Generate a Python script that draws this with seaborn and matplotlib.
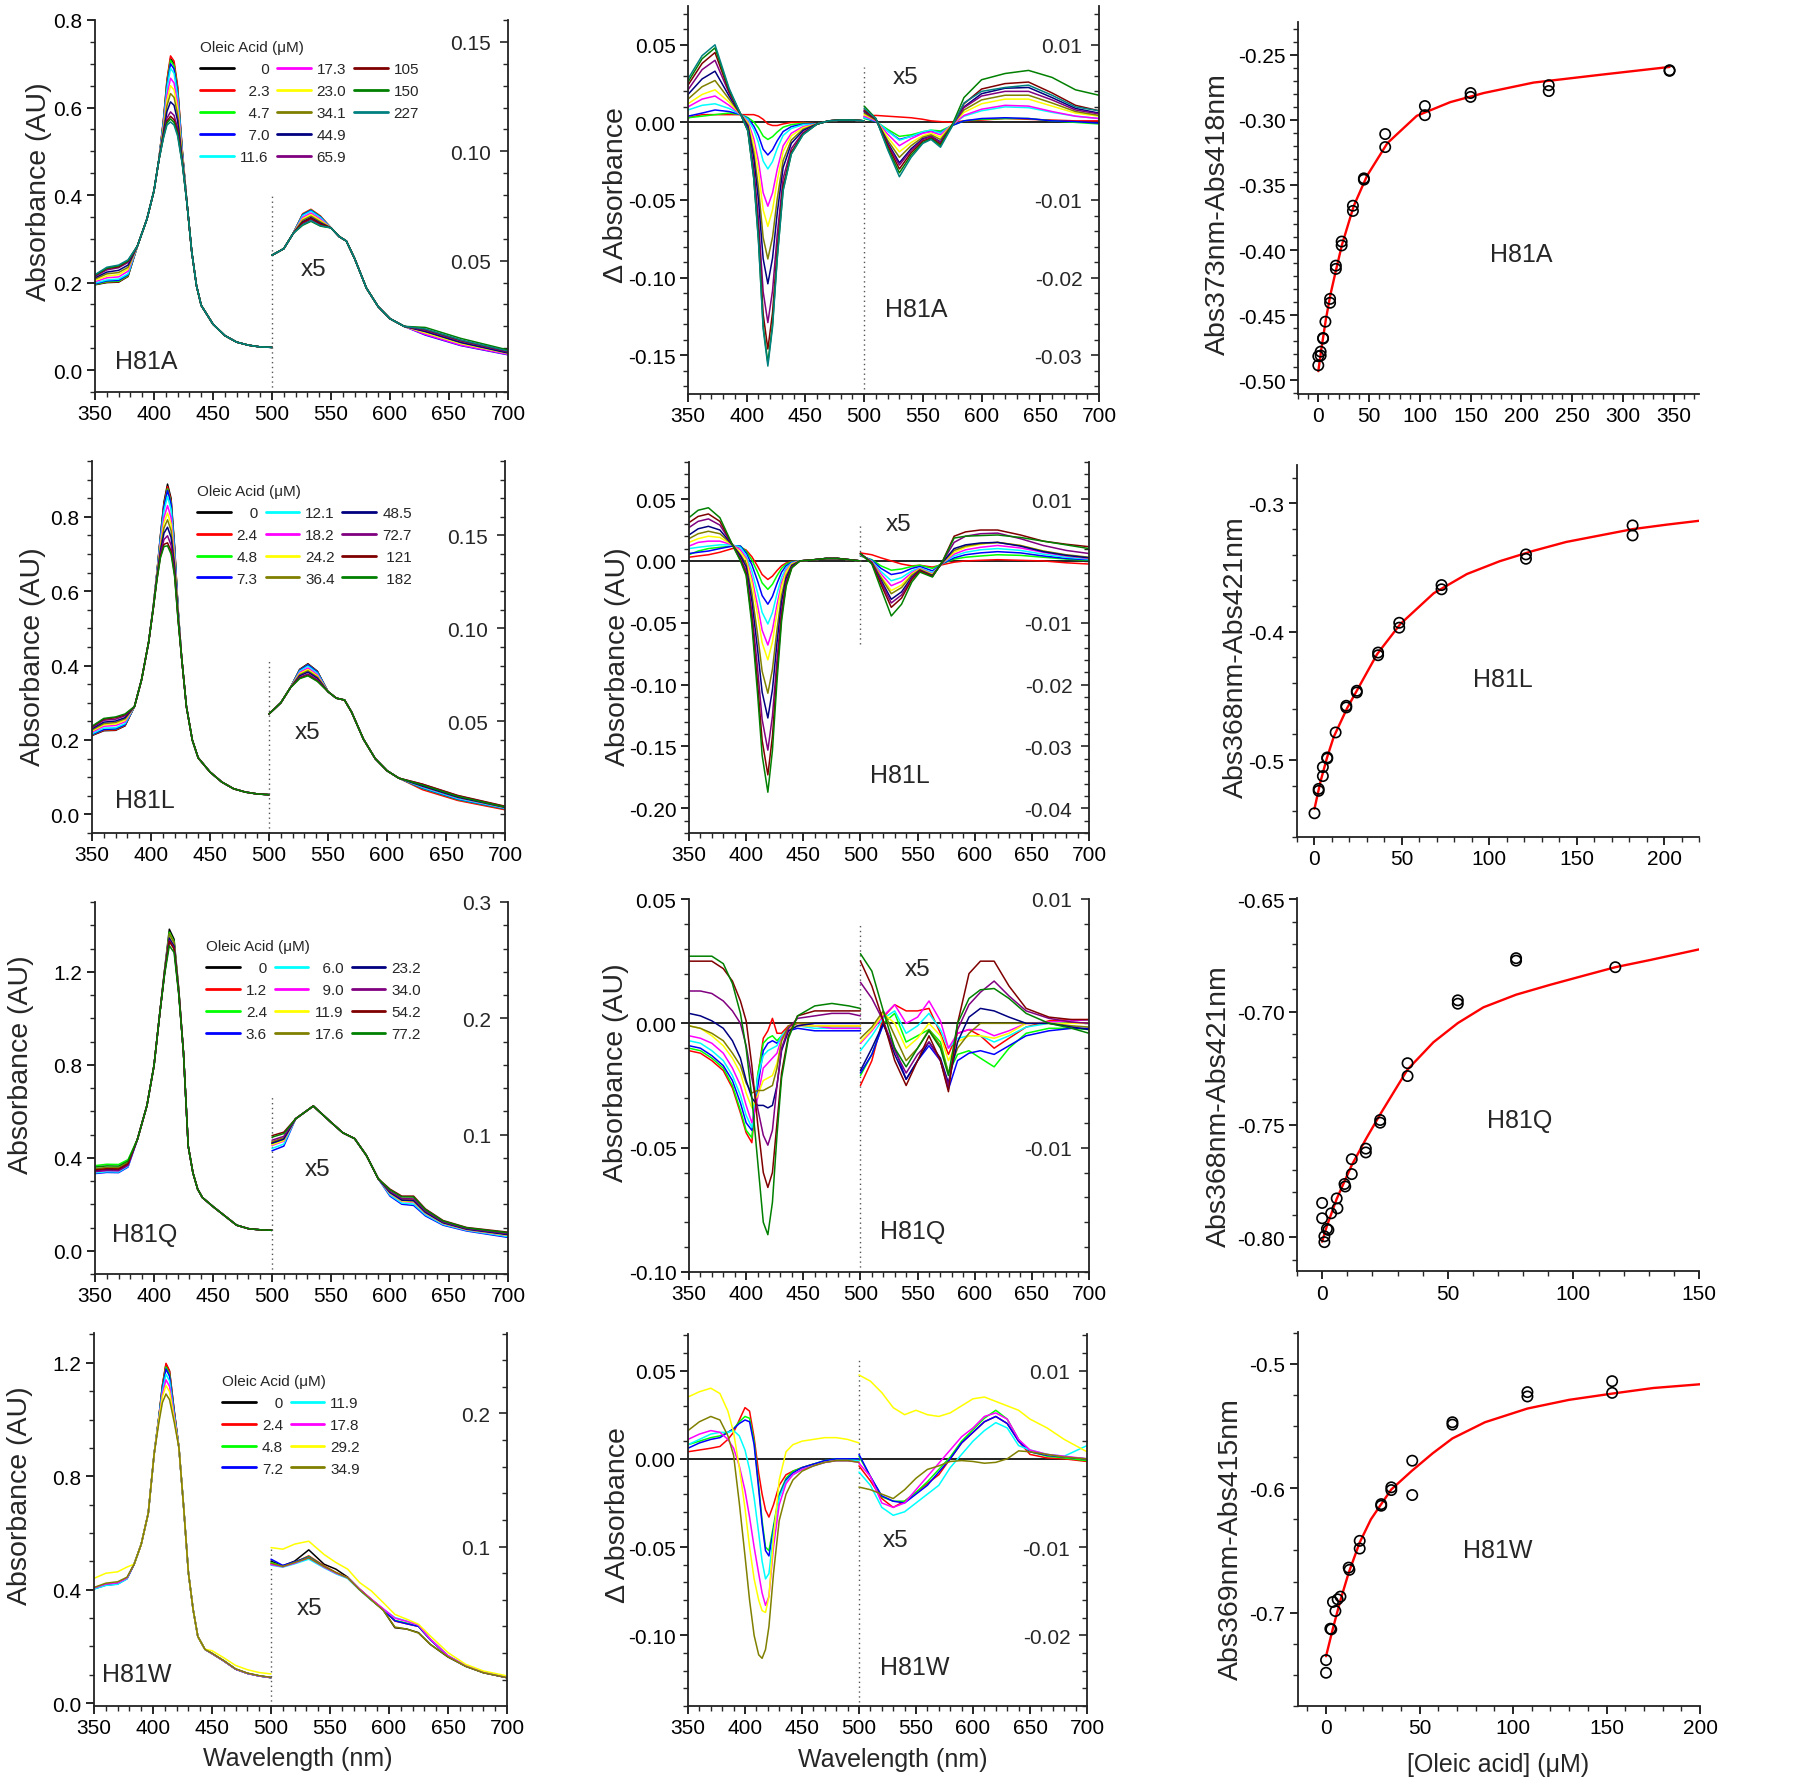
import matplotlib.pyplot as plt
import matplotlib.ticker as mticker
from matplotlib.lines import Line2D
import pandas as pd
import seaborn as sns

sns.set_theme(style="ticks")
plt.rcParams["font.family"] = ["Liberation Sans", "DejaVu Sans"]
plt.rcParams["axes.unicode_minus"] = False

# Origin default line colours, in legend order
ORIGIN = ["#000000", "#FF0000", "#00FF00", "#0000FF", "#00FFFF", "#FF00FF", "#FFFF00",
          "#808000", "#000080", "#800080", "#800000", "#008000", "#008080"]

# ======================= H81A =======================
a_conc = ["0", "2.3", "4.7", "7.0", "11.6", "17.3", "23.0", "34.1", "44.9", "65.9", "105", "150", "227"]

a_uv_lo_wl = [350, 360, 370, 378]
a_uv_lo = [
    [0.195, 0.200, 0.201, 0.214], [0.196, 0.201, 0.202, 0.215], [0.196, 0.202, 0.203, 0.216],
    [0.197, 0.204, 0.205, 0.218], [0.199, 0.206, 0.208, 0.220], [0.202, 0.211, 0.213, 0.226],
    [0.205, 0.215, 0.218, 0.231], [0.208, 0.220, 0.223, 0.235], [0.211, 0.224, 0.228, 0.240],
    [0.214, 0.229, 0.234, 0.246], [0.216, 0.232, 0.236, 0.249], [0.217, 0.233, 0.238, 0.250],
    [0.218, 0.235, 0.240, 0.252]]
a_uv_mid_wl = [386, 394, 400, 404]
a_uv_mid = [0.284, 0.345, 0.410, 0.478]
a_uv_pk_wl = [408, 411, 414, 417, 420, 424]
a_uv_pk = [
    [0.570, 0.660, 0.712, 0.700, 0.645, 0.500], [0.572, 0.664, 0.718, 0.706, 0.650, 0.502],
    [0.568, 0.656, 0.708, 0.695, 0.640, 0.498], [0.566, 0.650, 0.700, 0.688, 0.634, 0.497],
    [0.563, 0.643, 0.690, 0.678, 0.626, 0.495], [0.557, 0.628, 0.667, 0.656, 0.610, 0.490],
    [0.552, 0.616, 0.650, 0.640, 0.597, 0.487], [0.548, 0.604, 0.632, 0.623, 0.584, 0.483],
    [0.542, 0.591, 0.613, 0.605, 0.570, 0.479], [0.536, 0.576, 0.590, 0.582, 0.553, 0.475],
    [0.534, 0.569, 0.580, 0.572, 0.545, 0.473], [0.532, 0.565, 0.574, 0.566, 0.540, 0.472],
    [0.530, 0.560, 0.567, 0.560, 0.535, 0.470]]
a_uv_tail_wl = [428, 432, 436, 440, 450, 460, 470, 480, 490, 500]
a_uv_tail = [0.380, 0.270, 0.193, 0.148, 0.105, 0.079, 0.064, 0.057, 0.053, 0.052]

a_vis_a_wl = [500, 510, 518]
a_vis_a = [0.0525, 0.0555, 0.0625]
a_vis_pk_wl = [526, 533, 541]
a_vis_pk = [
    [0.0710, 0.0730, 0.0700], [0.0715, 0.0735, 0.0705], [0.0712, 0.0732, 0.0702],
    [0.0710, 0.0730, 0.0700], [0.0706, 0.0726, 0.0697], [0.0698, 0.0718, 0.0690],
    [0.0691, 0.0711, 0.0684], [0.0685, 0.0704, 0.0678], [0.0678, 0.0697, 0.0672],
    [0.0670, 0.0689, 0.0665], [0.0675, 0.0694, 0.0668], [0.0662, 0.0680, 0.0658],
    [0.0665, 0.0683, 0.0660]]
a_vis_b_wl = [550, 557, 563, 570, 580, 590, 600, 612]
a_vis_b = [0.0650, 0.0610, 0.0590, 0.0510, 0.0375, 0.0290, 0.0235, 0.0200]
a_vis_c_wl = [630, 660, 700]
a_vis_c = [
    [0.0175, 0.0125, 0.0078], [0.0172, 0.0122, 0.0076], [0.0165, 0.0115, 0.0072],
    [0.0160, 0.0112, 0.0070], [0.0168, 0.0118, 0.0074], [0.0163, 0.0114, 0.0072],
    [0.0170, 0.0121, 0.0076], [0.0178, 0.0128, 0.0080], [0.0176, 0.0126, 0.0078],
    [0.0182, 0.0133, 0.0083], [0.0186, 0.0136, 0.0086], [0.0195, 0.0145, 0.0092],
    [0.0188, 0.0138, 0.0087]]

ad_pos_wl = [350, 362, 373, 385]
ad_pos = [
    [0.003, 0.005, 0.005, 0.005], [0.003, 0.004, 0.005, 0.006], [0.004, 0.006, 0.008, 0.007],
    [0.008, 0.011, 0.012, 0.009], [0.010, 0.015, 0.017, 0.011], [0.012, 0.018, 0.021, 0.013],
    [0.015, 0.023, 0.027, 0.015], [0.018, 0.028, 0.033, 0.017], [0.021, 0.034, 0.040, 0.019],
    [0.024, 0.038, 0.045, 0.020], [0.026, 0.041, 0.048, 0.021], [0.028, 0.043, 0.050, 0.022]]
ad_iso_wl = [395]
ad_iso = [0.005]
ad_tr_wl = [401, 406, 410, 414, 418, 422, 426, 431, 438, 448]
ad_tr = [
    [0.0050, 0.0050, 0.0040, 0.0020, -0.0010, -0.0020, -0.0020, -0.0010, 0.0000, 0.0000],
    [0.0031, 0.0003, -0.0035, -0.0088, -0.0110, -0.0092, -0.0062, -0.0031, -0.0014, -0.0006],
    [0.0025, -0.0023, -0.0085, -0.0173, -0.0210, -0.0176, -0.0118, -0.0059, -0.0027, -0.0011],
    [0.0020, -0.0045, -0.0130, -0.0249, -0.0300, -0.0252, -0.0168, -0.0084, -0.0039, -0.0015],
    [0.0005, -0.0105, -0.0250, -0.0453, -0.0540, -0.0454, -0.0302, -0.0151, -0.0070, -0.0027],
    [-0.0003, -0.0138, -0.0315, -0.0564, -0.0670, -0.0563, -0.0375, -0.0188, -0.0087, -0.0034],
    [-0.0015, -0.0190, -0.0420, -0.0742, -0.0880, -0.0739, -0.0493, -0.0246, -0.0114, -0.0044],
    [-0.0025, -0.0230, -0.0500, -0.0878, -0.1040, -0.0874, -0.0582, -0.0291, -0.0135, -0.0052],
    [-0.0040, -0.0293, -0.0625, -0.1091, -0.1290, -0.1084, -0.0722, -0.0361, -0.0168, -0.0065],
    [-0.0050, -0.0335, -0.0710, -0.1235, -0.1460, -0.1226, -0.0818, -0.0409, -0.0190, -0.0073],
    [-0.0055, -0.0358, -0.0755, -0.1312, -0.1550, -0.1302, -0.0868, -0.0434, -0.0202, -0.0078],
    [-0.0056, -0.0363, -0.0765, -0.1329, -0.1570, -0.1319, -0.0879, -0.0440, -0.0204, -0.0079]]
ad_tail_wl = [460, 470, 480, 490, 500]
ad_tail = [-0.001, 0.001, 0.0015, 0.0015, 0.001]
ad_vis_wl = [500, 510, 520, 530, 540, 550, 557, 565, 575, 585, 600, 620, 640, 660, 680, 700]
ad_vis = [
    [0.0008, 0.0009, 0.0008, 0.0007, 0.0006, 0.0004, 0.0002, 0.0001, 0.0000, 0.0002, 0.0003, 0.0005, 0.0004, 0.0003, 0.0002, 0.0002],
    [0.0005, 0.0001, -0.0009, -0.0018, -0.0016, -0.0012, -0.0010, -0.0011, -0.0004, 0.0002, 0.0004, 0.0005, 0.0005, 0.0002, 0.0000, -0.0002],
    [0.0006, 0.0001, -0.0011, -0.0022, -0.0018, -0.0013, -0.0011, -0.0013, -0.0004, 0.0002, 0.0005, 0.0006, 0.0005, 0.0002, 0.0001, -0.0001],
    [0.0006, 0.0002, -0.0011, -0.0023, -0.0018, -0.0012, -0.0010, -0.0014, -0.0003, 0.0008, 0.0015, 0.0020, 0.0019, 0.0013, 0.0008, 0.0005],
    [0.0008, 0.0002, -0.0015, -0.0030, -0.0021, -0.0014, -0.0012, -0.0016, -0.0003, 0.0009, 0.0017, 0.0022, 0.0021, 0.0014, 0.0008, 0.0005],
    [0.0010, 0.0003, -0.0019, -0.0038, -0.0026, -0.0017, -0.0014, -0.0019, -0.0003, 0.0013, 0.0024, 0.0030, 0.0030, 0.0021, 0.0012, 0.0008],
    [0.0012, 0.0003, -0.0023, -0.0045, -0.0030, -0.0019, -0.0016, -0.0022, -0.0003, 0.0016, 0.0029, 0.0035, 0.0035, 0.0025, 0.0014, 0.0009],
    [0.0014, 0.0004, -0.0026, -0.0052, -0.0034, -0.0021, -0.0018, -0.0025, -0.0004, 0.0020, 0.0037, 0.0044, 0.0045, 0.0032, 0.0018, 0.0012],
    [0.0015, 0.0004, -0.0028, -0.0055, -0.0036, -0.0022, -0.0018, -0.0026, -0.0004, 0.0019, 0.0034, 0.0040, 0.0040, 0.0029, 0.0016, 0.0011],
    [0.0016, 0.0004, -0.0030, -0.0060, -0.0039, -0.0024, -0.0020, -0.0028, -0.0004, 0.0024, 0.0043, 0.0050, 0.0052, 0.0038, 0.0022, 0.0015],
    [0.0021, 0.0005, -0.0033, -0.0065, -0.0042, -0.0026, -0.0021, -0.0030, -0.0003, 0.0032, 0.0055, 0.0063, 0.0067, 0.0058, 0.0042, 0.0035],
    [0.0018, 0.0005, -0.0035, -0.0070, -0.0045, -0.0027, -0.0022, -0.0032, -0.0005, 0.0025, 0.0040, 0.0045, 0.0048, 0.0035, 0.0020, 0.0015]]

ra_x = [0, 0, 2.3, 2.3, 4.7, 4.7, 7.0, 11.6, 11.6, 17.3, 17.3, 23.0, 23.0, 34.1, 34.1,
        44.9, 44.9, 65.9, 65.9, 105, 105, 150, 150, 227, 227, 346, 346]
ra_y = [-0.4885, -0.4815, -0.4780, -0.4810, -0.4675, -0.4680, -0.4550, -0.4375, -0.4405,
        -0.4120, -0.4145, -0.3935, -0.3965, -0.3660, -0.3700, -0.3450, -0.3460, -0.3110,
        -0.3210, -0.2895, -0.2965, -0.2795, -0.2825, -0.2735, -0.2780, -0.2625, -0.2620]
fa_x = [0, 3, 7.5, 12, 17.4, 23.3, 35, 48, 68, 97, 130, 163, 212, 278, 346]
fa_y = [-0.493, -0.476, -0.453, -0.434, -0.4155, -0.396, -0.366, -0.343, -0.318, -0.297,
        -0.2865, -0.2795, -0.2715, -0.2655, -0.2595]

# ======================= H81L =======================
l_conc = ["0", "2.4", "4.8", "7.3", "12.1", "18.2", "24.2", "36.4", "48.5", "72.7", "121", "182"]

l_uv_lo_wl = [350, 360, 370, 378]
l_uv_lo = [
    [0.212, 0.225, 0.226, 0.238], [0.213, 0.226, 0.227, 0.239], [0.214, 0.228, 0.229, 0.241],
    [0.215, 0.228, 0.230, 0.241], [0.217, 0.232, 0.233, 0.244], [0.221, 0.237, 0.239, 0.249],
    [0.224, 0.241, 0.243, 0.253], [0.227, 0.244, 0.247, 0.257], [0.230, 0.248, 0.251, 0.260],
    [0.233, 0.253, 0.256, 0.265], [0.236, 0.256, 0.260, 0.268], [0.237, 0.258, 0.262, 0.270]]
l_uv_mid_wl = [386, 392, 398]
l_uv_mid = [0.290, 0.362, 0.463]
l_uv_pk_wl = [402, 405, 408, 411, 414, 417, 420, 423]
l_uv_pk = [
    [0.560, 0.650, 0.750, 0.840, 0.888, 0.850, 0.720, 0.550],
    [0.560, 0.649, 0.748, 0.835, 0.881, 0.844, 0.717, 0.549],
    [0.560, 0.648, 0.745, 0.830, 0.875, 0.838, 0.714, 0.548],
    [0.560, 0.648, 0.744, 0.828, 0.871, 0.835, 0.712, 0.547],
    [0.559, 0.646, 0.738, 0.816, 0.855, 0.820, 0.704, 0.544],
    [0.558, 0.643, 0.729, 0.798, 0.830, 0.798, 0.692, 0.540],
    [0.558, 0.641, 0.722, 0.784, 0.810, 0.780, 0.682, 0.536],
    [0.557, 0.638, 0.715, 0.770, 0.792, 0.763, 0.674, 0.533],
    [0.557, 0.636, 0.708, 0.756, 0.772, 0.745, 0.664, 0.529],
    [0.556, 0.633, 0.700, 0.739, 0.749, 0.724, 0.653, 0.525],
    [0.555, 0.631, 0.693, 0.726, 0.730, 0.708, 0.644, 0.522],
    [0.555, 0.630, 0.690, 0.720, 0.722, 0.700, 0.640, 0.520]]
l_uv_tail_wl = [426, 430, 435, 440, 450, 460, 470, 480, 490, 500]
l_uv_tail = [0.420, 0.290, 0.200, 0.152, 0.114, 0.087, 0.069, 0.060, 0.055, 0.053]

l_vis_a_wl = [500, 510, 518]
l_vis_a = [0.054, 0.060, 0.068]
l_vis_pk_wl = [526, 533, 541]
l_vis_pk = [
    [0.0780, 0.0810, 0.0770], [0.0778, 0.0807, 0.0768], [0.0776, 0.0805, 0.0766],
    [0.0775, 0.0804, 0.0765], [0.0770, 0.0797, 0.0759], [0.0763, 0.0787, 0.0751],
    [0.0757, 0.0779, 0.0744], [0.0751, 0.0772, 0.0738], [0.0745, 0.0765, 0.0732],
    [0.0738, 0.0755, 0.0724], [0.0733, 0.0748, 0.0718], [0.0730, 0.0745, 0.0715]]
l_vis_b_wl = [550, 557, 564, 570, 580, 590, 600, 610]
l_vis_b = [0.0660, 0.0625, 0.0615, 0.0550, 0.0405, 0.0300, 0.0235, 0.0195]
l_vis_c_wl = [630, 660, 700]
l_vis_c = [
    [0.0148, 0.0088, 0.0035], [0.0133, 0.0075, 0.0025], [0.0140, 0.0080, 0.0030],
    [0.0142, 0.0082, 0.0031], [0.0145, 0.0085, 0.0033], [0.0150, 0.0090, 0.0036],
    [0.0152, 0.0092, 0.0037], [0.0155, 0.0095, 0.0039], [0.0152, 0.0092, 0.0038],
    [0.0162, 0.0100, 0.0042], [0.0163, 0.0102, 0.0044], [0.0158, 0.0097, 0.0040]]

ld_pos_wl = [350, 358, 367, 377, 388, 395]
ld_pos = [
    [0.003, 0.004, 0.005, 0.007, 0.010, 0.011], [0.005, 0.008, 0.010, 0.011, 0.012, 0.012],
    [0.006, 0.007, 0.008, 0.010, 0.012, 0.012], [0.010, 0.011, 0.012, 0.013, 0.013, 0.011],
    [0.012, 0.015, 0.016, 0.016, 0.013, 0.009], [0.015, 0.018, 0.020, 0.019, 0.013, 0.007],
    [0.018, 0.022, 0.024, 0.022, 0.013, 0.005], [0.021, 0.026, 0.028, 0.025, 0.013, 0.004],
    [0.027, 0.032, 0.034, 0.029, 0.013, 0.002], [0.031, 0.036, 0.038, 0.032, 0.013, 0.001],
    [0.035, 0.041, 0.043, 0.035, 0.013, 0.000]]
ld_tr_wl = [400, 405, 410, 414, 419, 423, 427, 431, 435, 440]
ld_tr = [
    [0.0088, 0.0034, -0.0042, -0.0110, -0.0150, -0.0123, -0.0078, -0.0039, -0.0017, -0.0005],
    [0.0078, 0.0008, -0.0090, -0.0178, -0.0230, -0.0189, -0.0120, -0.0060, -0.0025, -0.0007],
    [0.0064, -0.0030, -0.0162, -0.0280, -0.0350, -0.0287, -0.0182, -0.0091, -0.0039, -0.0011],
    [0.0045, -0.0081, -0.0258, -0.0416, -0.0510, -0.0418, -0.0265, -0.0133, -0.0056, -0.0015],
    [0.0024, -0.0136, -0.0360, -0.0560, -0.0680, -0.0558, -0.0354, -0.0177, -0.0075, -0.0020],
    [0.0010, -0.0174, -0.0432, -0.0662, -0.0800, -0.0656, -0.0416, -0.0208, -0.0088, -0.0024],
    [-0.0022, -0.0260, -0.0594, -0.0892, -0.1070, -0.0877, -0.0556, -0.0278, -0.0118, -0.0032],
    [-0.0046, -0.0324, -0.0714, -0.1062, -0.1270, -0.1041, -0.0660, -0.0330, -0.0140, -0.0038],
    [-0.0078, -0.0408, -0.0870, -0.1282, -0.1530, -0.1255, -0.0796, -0.0398, -0.0168, -0.0046],
    [-0.0102, -0.0472, -0.0990, -0.1452, -0.1730, -0.1419, -0.0900, -0.0450, -0.0190, -0.0052],
    [-0.0118, -0.0516, -0.1074, -0.1572, -0.1870, -0.1533, -0.0972, -0.0486, -0.0206, -0.0056]]
ld_tail_wl = [447, 460, 470, 480, 490, 500]
ld_tail = [0.000, 0.001, 0.002, 0.002, 0.001, 0.000]
ld_vis_wl = [500, 510, 518, 527, 536, 545, 552, 563, 572, 582, 592, 605, 620, 640, 660, 680, 700]
ld_vis = [
    [0.0013, 0.0010, 0.0005, 0.0000, -0.0005, -0.0008, -0.0007, -0.0010, -0.0006, -0.0002, 0.0000, 0.0001, 0.0002, 0.0001, 0.0000, -0.0003, -0.0005],
    [0.0008, 0.0002, -0.0008, -0.0015, -0.0013, -0.0009, -0.0007, -0.0012, -0.0004, 0.0003, 0.0006, 0.0008, 0.0010, 0.0009, 0.0006, 0.0003, 0.0001],
    [0.0009, 0.0001, -0.0012, -0.0022, -0.0019, -0.0012, -0.0009, -0.0016, -0.0004, 0.0005, 0.0010, 0.0013, 0.0015, 0.0013, 0.0008, 0.0004, 0.0002],
    [0.0010, 0.0000, -0.0017, -0.0032, -0.0027, -0.0016, -0.0011, -0.0019, -0.0003, 0.0008, 0.0014, 0.0018, 0.0020, 0.0017, 0.0011, 0.0006, 0.0003],
    [0.0010, -0.0001, -0.0021, -0.0040, -0.0033, -0.0019, -0.0012, -0.0021, -0.0003, 0.0011, 0.0018, 0.0022, 0.0025, 0.0021, 0.0014, 0.0008, 0.0004],
    [0.0011, -0.0002, -0.0025, -0.0048, -0.0039, -0.0021, -0.0013, -0.0022, -0.0003, 0.0014, 0.0022, 0.0027, 0.0030, 0.0025, 0.0016, 0.0009, 0.0005],
    [0.0011, -0.0002, -0.0027, -0.0053, -0.0043, -0.0023, -0.0014, -0.0023, -0.0002, 0.0017, 0.0024, 0.0028, 0.0030, 0.0025, 0.0016, 0.0010, 0.0006],
    [0.0012, -0.0003, -0.0031, -0.0062, -0.0050, -0.0026, -0.0015, -0.0024, -0.0002, 0.0020, 0.0026, 0.0029, 0.0030, 0.0024, 0.0015, 0.0009, 0.0005],
    [0.0012, -0.0003, -0.0034, -0.0068, -0.0055, -0.0028, -0.0016, -0.0025, -0.0001, 0.0030, 0.0040, 0.0044, 0.0045, 0.0036, 0.0025, 0.0017, 0.0012],
    [0.0012, -0.0004, -0.0038, -0.0075, -0.0060, -0.0030, -0.0016, -0.0025, 0.0000, 0.0040, 0.0047, 0.0050, 0.0050, 0.0042, 0.0032, 0.0027, 0.0023],
    [0.0012, -0.0005, -0.0045, -0.0089, -0.0070, -0.0034, -0.0018, -0.0026, 0.0000, 0.0037, 0.0040, 0.0041, 0.0042, 0.0038, 0.0032, 0.0026, 0.0020]]

rl_x = [0, 2.4, 2.4, 4.8, 4.8, 7.3, 7.3, 12.1, 18.2, 18.2, 24.2, 24.2, 36.4, 36.4,
        48.5, 48.5, 72.7, 72.7, 121, 121, 182, 182]
rl_y = [-0.5415, -0.5225, -0.5240, -0.5055, -0.5125, -0.4980, -0.4988, -0.4785, -0.4577,
        -0.4590, -0.4460, -0.4473, -0.4162, -0.4183, -0.3930, -0.3968, -0.3636, -0.3669,
        -0.3397, -0.3431, -0.3171, -0.3249]
fl_x = [0, 3.4, 7.2, 11, 18.7, 24.4, 35.8, 49.1, 68.2, 87.2, 106, 125, 144, 163, 182, 201.5, 220]
fl_y = [-0.538, -0.517, -0.498, -0.482, -0.4595, -0.4455, -0.4175, -0.394, -0.370, -0.355,
        -0.345, -0.337, -0.330, -0.325, -0.320, -0.3165, -0.3135]

# ======================= H81Q =======================
q_conc = ["0", "1.2", "2.4", "3.6", "6.0", "9.0", "11.9", "17.6", "23.2", "34.0", "54.2", "77.2"]

q_uv_lo_wl = [350, 360, 370, 378]
q_uv_lo = [
    [0.345, 0.350, 0.349, 0.372], [0.347, 0.352, 0.351, 0.374], [0.366, 0.372, 0.371, 0.392],
    [0.332, 0.337, 0.336, 0.360], [0.335, 0.340, 0.339, 0.363], [0.340, 0.345, 0.344, 0.367],
    [0.350, 0.355, 0.354, 0.377], [0.353, 0.358, 0.357, 0.380], [0.343, 0.348, 0.347, 0.370],
    [0.341, 0.346, 0.345, 0.368], [0.348, 0.353, 0.352, 0.375], [0.360, 0.365, 0.364, 0.386]]
q_uv_mid_wl = [386, 394, 400, 405]
q_uv_mid = [0.480, 0.624, 0.796, 1.025]
q_uv_pk_wl = [409, 413, 417, 421]
q_uv_pk = [
    [1.210, 1.383, 1.340, 1.125], [1.203, 1.360, 1.322, 1.117], [1.206, 1.370, 1.330, 1.120],
    [1.202, 1.355, 1.318, 1.115], [1.200, 1.350, 1.314, 1.113], [1.199, 1.345, 1.310, 1.112],
    [1.200, 1.350, 1.314, 1.113], [1.205, 1.365, 1.326, 1.119], [1.199, 1.345, 1.310, 1.112],
    [1.196, 1.335, 1.302, 1.108], [1.194, 1.330, 1.298, 1.106], [1.189, 1.312, 1.283, 1.100]]
q_uv_tail_wl = [425, 429, 433, 437, 441, 450, 460, 470, 480, 490, 500]
q_uv_tail = [0.850, 0.450, 0.335, 0.265, 0.229, 0.190, 0.150, 0.110, 0.095, 0.090, 0.088]

q_vis_a_wl = [500, 510]
q_vis_a = [
    [0.0925, 0.0960], [0.0932, 0.0966], [0.0919, 0.0954], [0.0860, 0.0900],
    [0.0880, 0.0918], [0.0906, 0.0942], [0.0912, 0.0948], [0.0938, 0.0972],
    [0.0925, 0.0960], [0.0951, 0.0984], [0.0990, 0.1020], [0.0977, 0.1008]]
q_vis_b_wl = [520, 535, 550, 560, 570, 580, 590]
q_vis_b = [0.1135, 0.1245, 0.1105, 0.1015, 0.0965, 0.0820, 0.0620]
q_vis_c_wl = [600, 610, 620, 630, 645, 665, 700]
q_vis_c = [
    [0.0500, 0.0435, 0.0430, 0.0330, 0.0240, 0.0185, 0.0138],
    [0.0503, 0.0439, 0.0434, 0.0333, 0.0242, 0.0187, 0.0140],
    [0.0497, 0.0432, 0.0426, 0.0327, 0.0238, 0.0184, 0.0135],
    [0.0470, 0.0400, 0.0390, 0.0300, 0.0220, 0.0170, 0.0115],
    [0.0479, 0.0410, 0.0402, 0.0309, 0.0226, 0.0175, 0.0122],
    [0.0491, 0.0425, 0.0418, 0.0321, 0.0234, 0.0180, 0.0131],
    [0.0494, 0.0428, 0.0422, 0.0324, 0.0236, 0.0182, 0.0133],
    [0.0506, 0.0442, 0.0438, 0.0336, 0.0244, 0.0188, 0.0142],
    [0.0500, 0.0435, 0.0430, 0.0330, 0.0240, 0.0185, 0.0138],
    [0.0512, 0.0449, 0.0446, 0.0342, 0.0248, 0.0191, 0.0147],
    [0.0530, 0.0470, 0.0470, 0.0360, 0.0260, 0.0200, 0.0160],
    [0.0524, 0.0463, 0.0462, 0.0354, 0.0256, 0.0197, 0.0155]]

qd_wl = [350, 360, 370, 380, 388, 395, 400, 405, 410, 415, 419, 423, 427, 431, 437, 445, 460, 475, 490, 500]
qd = [
    [-0.011, -0.012, -0.015, -0.019, -0.026, -0.036, -0.044, -0.048, -0.022, -0.006, -0.003, 0.002, -0.004, -0.004, -0.001, 0.000, -0.001, -0.001, -0.001, -0.001],
    [-0.010, -0.011, -0.014, -0.018, -0.025, -0.035, -0.043, -0.046, -0.021, -0.008, -0.006, -0.005, -0.007, -0.005, -0.002, -0.001, -0.001, -0.002, -0.002, -0.002],
    [-0.009, -0.010, -0.013, -0.017, -0.023, -0.032, -0.040, -0.043, -0.026, -0.011, -0.008, -0.007, -0.008, -0.006, -0.003, -0.002, -0.003, -0.003, -0.003, -0.003],
    [-0.007, -0.008, -0.011, -0.015, -0.021, -0.029, -0.037, -0.042, -0.022, -0.013, -0.011, -0.010, -0.009, -0.005, -0.002, -0.001, -0.002, -0.002, -0.002, -0.002],
    [-0.005, -0.006, -0.008, -0.012, -0.018, -0.025, -0.033, -0.040, -0.030, -0.018, -0.016, -0.014, -0.012, -0.006, -0.002, -0.001, -0.001, -0.002, -0.002, -0.002],
    [-0.001, -0.002, -0.005, -0.009, -0.014, -0.020, -0.028, -0.034, -0.029, -0.023, -0.022, -0.021, -0.016, -0.007, -0.002, -0.001, -0.001, -0.001, -0.001, -0.001],
    [-0.001, -0.002, -0.004, -0.007, -0.012, -0.017, -0.024, -0.028, -0.027, -0.027, -0.026, -0.025, -0.018, -0.007, -0.001, 0.000, 0.000, 0.000, 0.000, 0.000],
    [0.004, 0.003, 0.001, -0.002, -0.007, -0.014, -0.023, -0.030, -0.033, -0.033, -0.034, -0.033, -0.025, -0.011, -0.003, -0.001, 0.000, 0.000, 0.000, 0.000],
    [0.013, 0.013, 0.012, 0.009, 0.005, 0.000, -0.009, -0.022, -0.034, -0.045, -0.049, -0.043, -0.025, -0.010, -0.002, 0.002, 0.003, 0.004, 0.004, 0.003],
    [0.025, 0.025, 0.025, 0.022, 0.017, 0.009, 0.001, -0.017, -0.040, -0.060, -0.066, -0.060, -0.040, -0.020, -0.005, 0.003, 0.005, 0.005, 0.005, 0.005],
    [0.027, 0.027, 0.027, 0.024, 0.016, 0.004, -0.010, -0.030, -0.055, -0.080, -0.085, -0.072, -0.045, -0.022, -0.006, 0.003, 0.007, 0.008, 0.007, 0.006]]
qd_vis_wl = [500, 510, 520, 530, 540, 550, 560, 570, 577, 585, 595, 605, 617, 630, 645, 665, 685, 700]
qd_vis = [
    [-0.0050, -0.0030, 0.0005, 0.0015, 0.0010, 0.0010, 0.0012, -0.0008, -0.0025, -0.0008, -0.0005, -0.0010, -0.0020, -0.0012, -0.0003, 0.0002, 0.0003, 0.0003],
    [-0.0042, -0.0025, 0.0000, 0.0008, -0.0015, -0.0010, -0.0005, -0.0015, -0.0040, -0.0025, -0.0022, -0.0028, -0.0035, -0.0020, -0.0008, -0.0004, -0.0004, -0.0005],
    [-0.0040, -0.0025, -0.0001, -0.0020, -0.0045, -0.0030, -0.0018, -0.0030, -0.0053, -0.0030, -0.0024, -0.0022, -0.0025, -0.0018, -0.0010, -0.0006, -0.0004, -0.0004],
    [-0.0022, -0.0010, 0.0004, 0.0010, -0.0008, -0.0002, 0.0008, -0.0005, -0.0020, -0.0012, -0.0010, -0.0010, -0.0015, -0.0010, -0.0003, 0.0000, 0.0002, 0.0003],
    [-0.0016, -0.0006, 0.0006, 0.0015, 0.0000, 0.0005, 0.0018, 0.0002, -0.0020, -0.0008, -0.0005, -0.0005, -0.0010, -0.0006, 0.0000, 0.0001, 0.0002, 0.0003],
    [-0.0015, -0.0005, 0.0008, 0.0000, -0.0020, -0.0012, 0.0000, -0.0010, -0.0030, -0.0015, -0.0010, -0.0010, -0.0012, -0.0008, 0.0000, 0.0000, 0.0000, 0.0000],
    [-0.0012, -0.0003, 0.0010, -0.0010, -0.0030, -0.0020, -0.0005, -0.0018, -0.0040, -0.0020, -0.0008, 0.0000, 0.0000, 0.0000, 0.0000, 0.0000, -0.0002, -0.0003],
    [-0.0038, -0.0020, 0.0000, -0.0025, -0.0045, -0.0030, -0.0015, -0.0028, -0.0048, -0.0015, 0.0005, 0.0012, 0.0010, 0.0005, 0.0000, 0.0000, -0.0003, -0.0005],
    [0.0033, 0.0020, 0.0002, -0.0022, -0.0040, -0.0025, -0.0015, -0.0030, -0.0050, -0.0005, 0.0015, 0.0025, 0.0034, 0.0022, 0.0010, 0.0004, 0.0001, 0.0000],
    [0.0050, 0.0030, 0.0002, -0.0030, -0.0050, -0.0030, -0.0010, -0.0030, -0.0055, 0.0000, 0.0040, 0.0050, 0.0050, 0.0030, 0.0012, 0.0005, 0.0003, 0.0003],
    [0.0056, 0.0042, 0.0010, -0.0020, -0.0035, -0.0020, -0.0006, -0.0020, -0.0042, 0.0000, 0.0020, 0.0027, 0.0028, 0.0020, 0.0008, 0.0000, -0.0004, -0.0008]]

rq_x = [0, 0, 0.9, 0.9, 1.9, 2.5, 3.6, 5.8, 6.1, 8.9, 9.2, 11.8, 11.8, 17.4, 17.4, 23.1, 23.1,
        34.0, 34.0, 54.0, 54.0, 77.2, 77.2, 116.7]
rq_y = [-0.7848, -0.7916, -0.7996, -0.8022, -0.7963, -0.7968, -0.7894, -0.7828, -0.7872,
        -0.7764, -0.7775, -0.7654, -0.7720, -0.7607, -0.7624, -0.7480, -0.7492, -0.7228,
        -0.7285, -0.6949, -0.6964, -0.6762, -0.6773, -0.6802]
fq_x = [0, 1.9, 5.8, 11.8, 17.4, 23.1, 34.0, 44.3, 54.0, 64.2, 77.2, 90.8, 104, 116.7, 130.6, 150]
fq_y = [-0.802, -0.795, -0.783, -0.768, -0.7565, -0.7455, -0.7256, -0.7135, -0.705, -0.698,
        -0.6924, -0.688, -0.684, -0.6802, -0.677, -0.6723]

# ======================= H81W =======================
w_conc = ["0", "2.4", "4.8", "7.2", "11.9", "17.8", "29.2", "34.9"]

w_uv_lo_wl = [350, 360, 370, 378]
w_uv_lo = [
    [0.405, 0.418, 0.422, 0.440], [0.404, 0.417, 0.421, 0.440], [0.405, 0.419, 0.423, 0.441],
    [0.403, 0.416, 0.420, 0.439], [0.402, 0.415, 0.419, 0.438], [0.406, 0.420, 0.424, 0.441],
    [0.440, 0.458, 0.463, 0.480], [0.408, 0.423, 0.428, 0.444]]
w_uv_mid_wl = [384, 390, 396, 401]
w_uv_mid = [0.490, 0.560, 0.670, 0.880]
w_uv_pk_wl = [405, 408, 411, 414, 418]
w_uv_pk = [
    [1.010, 1.120, 1.195, 1.170, 1.030], [1.010, 1.122, 1.198, 1.172, 1.030],
    [1.008, 1.115, 1.185, 1.160, 1.025], [1.007, 1.111, 1.178, 1.153, 1.022],
    [1.004, 1.101, 1.160, 1.136, 1.015], [1.001, 1.090, 1.140, 1.117, 1.008],
    [1.000, 1.080, 1.120, 1.098, 1.000], [0.990, 1.060, 1.090, 1.070, 0.990]]
w_uv_mid2_wl = [422, 426, 430, 434, 438, 444]
w_uv_mid2 = [0.900, 0.690, 0.460, 0.330, 0.235, 0.190]
w_uv_tail_wl = [450, 460, 470, 480, 490, 500]
w_uv_tail = [
    [0.175, 0.149, 0.120, 0.105, 0.096, 0.090], [0.175, 0.149, 0.120, 0.105, 0.096, 0.090],
    [0.175, 0.149, 0.120, 0.105, 0.096, 0.090], [0.175, 0.149, 0.120, 0.105, 0.096, 0.090],
    [0.175, 0.149, 0.120, 0.105, 0.096, 0.090], [0.175, 0.149, 0.120, 0.105, 0.096, 0.090],
    [0.185, 0.160, 0.133, 0.118, 0.108, 0.103], [0.176, 0.150, 0.121, 0.106, 0.097, 0.091]]

w_vis_wl = [500, 510, 520, 532, 545, 555, 565, 575, 585, 595, 605, 615, 625, 635, 650, 665, 680, 700]
w_vis = [
    [0.0890, 0.0855, 0.0890, 0.0975, 0.0867, 0.0830, 0.0770, 0.0680, 0.0600, 0.0525, 0.0390, 0.0380, 0.0353, 0.0265, 0.0170, 0.0100, 0.0052, 0.0015],
    [0.0870, 0.0850, 0.0880, 0.0930, 0.0855, 0.0805, 0.0767, 0.0680, 0.0604, 0.0530, 0.0440, 0.0420, 0.0400, 0.0300, 0.0178, 0.0103, 0.0053, 0.0015],
    [0.0880, 0.0852, 0.0882, 0.0925, 0.0850, 0.0800, 0.0765, 0.0678, 0.0600, 0.0528, 0.0445, 0.0425, 0.0402, 0.0302, 0.0178, 0.0103, 0.0055, 0.0016],
    [0.0905, 0.0858, 0.0885, 0.0920, 0.0848, 0.0800, 0.0763, 0.0676, 0.0600, 0.0527, 0.0442, 0.0420, 0.0400, 0.0300, 0.0176, 0.0102, 0.0053, 0.0015],
    [0.0860, 0.0845, 0.0870, 0.0905, 0.0840, 0.0795, 0.0760, 0.0675, 0.0598, 0.0530, 0.0466, 0.0440, 0.0410, 0.0305, 0.0180, 0.0104, 0.0055, 0.0017],
    [0.0865, 0.0848, 0.0875, 0.0915, 0.0845, 0.0800, 0.0765, 0.0680, 0.0604, 0.0533, 0.0462, 0.0438, 0.0410, 0.0305, 0.0180, 0.0104, 0.0055, 0.0016],
    [0.0992, 0.0980, 0.1018, 0.1040, 0.0940, 0.0880, 0.0830, 0.0730, 0.0667, 0.0580, 0.0490, 0.0454, 0.0416, 0.0328, 0.0203, 0.0115, 0.0065, 0.0028],
    [0.0875, 0.0850, 0.0880, 0.0915, 0.0850, 0.0805, 0.0765, 0.0675, 0.0598, 0.0522, 0.0395, 0.0380, 0.0350, 0.0265, 0.0172, 0.0100, 0.0052, 0.0015]]

wd_wl = [350, 360, 370, 378, 385, 390, 395, 400, 404, 408, 412, 415, 418, 421, 425, 430, 436, 442, 450, 460, 470, 480, 490, 500]
wd = [
    [0.004, 0.005, 0.006, 0.007, 0.011, 0.015, 0.022, 0.029, 0.027, 0.012, -0.008, -0.020, -0.029, -0.033, -0.026, -0.015, -0.009, -0.007, -0.005, -0.003, -0.002, -0.001, -0.001, -0.001],
    [0.008, 0.010, 0.012, 0.013, 0.015, 0.017, 0.021, 0.024, 0.023, 0.010, -0.015, -0.035, -0.050, -0.052, -0.038, -0.020, -0.011, -0.007, -0.005, -0.003, -0.001, 0.000, 0.000, -0.001],
    [0.006, 0.009, 0.011, 0.012, 0.015, 0.017, 0.020, 0.022, 0.021, 0.008, -0.017, -0.037, -0.052, -0.055, -0.040, -0.021, -0.012, -0.008, -0.005, -0.003, -0.001, 0.000, 0.000, 0.000],
    [0.008, 0.011, 0.014, 0.015, 0.015, 0.016, 0.013, 0.005, -0.006, -0.022, -0.042, -0.058, -0.068, -0.065, -0.042, -0.022, -0.013, -0.009, -0.006, -0.004, -0.002, -0.001, -0.001, -0.001],
    [0.011, 0.014, 0.016, 0.015, 0.011, 0.006, -0.004, -0.018, -0.033, -0.050, -0.065, -0.076, -0.083, -0.078, -0.050, -0.026, -0.014, -0.009, -0.006, -0.004, -0.002, -0.001, -0.001, -0.002],
    [0.035, 0.038, 0.040, 0.037, 0.027, 0.015, -0.005, -0.028, -0.050, -0.068, -0.080, -0.086, -0.087, -0.078, -0.045, -0.012, 0.004, 0.008, 0.010, 0.011, 0.012, 0.012, 0.011, 0.009],
    [0.016, 0.021, 0.024, 0.022, 0.013, 0.002, -0.025, -0.055, -0.080, -0.100, -0.111, -0.113, -0.108, -0.095, -0.065, -0.035, -0.020, -0.012, -0.007, -0.004, -0.002, -0.001, -0.001, -0.002]]
wd_vis_wl = [500, 510, 520, 530, 540, 550, 560, 570, 580, 590, 600, 610, 620, 630, 640, 650, 665, 680, 700]
wd_vis = [
    [-0.0008, -0.0025, -0.0045, -0.0055, -0.0048, -0.0038, -0.0028, -0.0018, 0.0000, 0.0018, 0.0030, 0.0042, 0.0048, 0.0040, 0.0020, 0.0005, 0.0001, 0.0000, -0.0003],
    [0.0003, -0.0020, -0.0043, -0.0048, -0.0048, -0.0038, -0.0026, -0.0012, 0.0002, 0.0020, 0.0033, 0.0046, 0.0055, 0.0045, 0.0022, 0.0008, 0.0003, 0.0001, -0.0002],
    [0.0005, -0.0020, -0.0042, -0.0048, -0.0050, -0.0040, -0.0030, -0.0015, 0.0000, 0.0018, 0.0030, 0.0042, 0.0048, 0.0040, 0.0020, 0.0008, 0.0004, 0.0002, 0.0000],
    [-0.0015, -0.0030, -0.0055, -0.0064, -0.0060, -0.0050, -0.0040, -0.0030, -0.0010, 0.0005, 0.0020, 0.0032, 0.0041, 0.0035, 0.0015, 0.0010, 0.0005, 0.0003, 0.0015],
    [-0.0005, -0.0020, -0.0050, -0.0055, -0.0050, -0.0035, -0.0020, -0.0005, 0.0010, 0.0025, 0.0035, 0.0048, 0.0052, 0.0045, 0.0022, 0.0010, 0.0005, 0.0003, 0.0000],
    [0.0095, 0.0088, 0.0075, 0.0058, 0.0050, 0.0055, 0.0050, 0.0048, 0.0052, 0.0060, 0.0068, 0.0070, 0.0065, 0.0060, 0.0055, 0.0045, 0.0035, 0.0022, 0.0008],
    [-0.0032, -0.0035, -0.0040, -0.0045, -0.0035, -0.0022, -0.0012, -0.0008, -0.0003, -0.0002, -0.0003, -0.0005, -0.0004, 0.0000, 0.0009, 0.0008, 0.0005, 0.0002, 0.0000]]

rw_x = [0, 0, 2.3, 2.8, 3.7, 5.0, 6.2, 7.7, 12.1, 12.5, 18.0, 18.0, 29.5, 29.5, 34.9, 34.9,
        46.1, 46.1, 67.6, 67.6, 107.7, 107.7, 153.0, 153.0]
rw_y = [-0.7381, -0.7483, -0.7129, -0.7134, -0.6914, -0.6987, -0.6893, -0.6871, -0.6638,
        -0.6656, -0.6423, -0.6485, -0.6128, -0.6141, -0.5993, -0.6015, -0.5779, -0.6055,
        -0.5470, -0.5489, -0.5228, -0.5263, -0.5140, -0.5234]
fw_x = [0, 3.7, 7.7, 12.1, 18, 24, 29.5, 34.9, 46, 57, 67.6, 85, 107.7, 130, 153, 175, 200]
fw_y = [-0.735, -0.7125, -0.690, -0.668, -0.6436, -0.625, -0.6128, -0.601, -0.5859, -0.572,
        -0.560, -0.547, -0.536, -0.529, -0.524, -0.5195, -0.5165]

# ======================= drawing =======================
W, H = 1800, 1790
TICK, YLAB, XLAB, TAG, LEG = 15, 20.5, 18, 18, 11
SPINE = "#222222"

fig = plt.figure(figsize=(18, 17.9), dpi=100)


def add_ax(box):
    l, t, r, b = box
    return fig.add_axes([l / W, 1 - b / H, (r - l) / W, (b - t) / H])


def build(segments, labels):
    rows = []
    for i, lab in enumerate(labels):
        for wl, vals in segments:
            v = vals[i] if isinstance(vals[0], list) else vals
            for w, y in zip(wl, v):
                rows.append((lab, w, y))
    return pd.DataFrame(rows, columns=["conc", "wl", "val"])


def draw(ax, segments, labels, colors, lw=1.1):
    df = build(segments, labels)
    sns.lineplot(data=df, x="wl", y="val", hue="conc", hue_order=labels,
                 palette=dict(zip(labels, colors)), estimator=None, sort=False,
                 lw=lw, legend=False, ax=ax)


def style_ticks(ax):
    ax.tick_params(axis="both", which="major", direction="out", length=6, width=1.2,
                   labelsize=TICK, colors="black", pad=3)
    ax.tick_params(axis="both", which="minor", direction="out", length=3.5, width=1.0)
    for s in ax.spines.values():
        s.set_color(SPINE)
        s.set_linewidth(1.3)


def spectrum_axes(box, ylim, ymaj, ymin, ylim2, yt2, ymin2):
    ax = add_ax(box)
    ax2 = ax.twinx()
    ax.set_xlim(350, 700)
    ax.set_ylim(*ylim)
    ax2.set_ylim(*ylim2)
    ax.xaxis.set_major_locator(mticker.MultipleLocator(50))
    ax.xaxis.set_minor_locator(mticker.MultipleLocator(10))
    ax.yaxis.set_major_locator(mticker.MultipleLocator(ymaj))
    ax.yaxis.set_minor_locator(mticker.MultipleLocator(ymin))
    ax2.set_yticks(yt2)
    ax2.yaxis.set_minor_locator(mticker.MultipleLocator(ymin2))
    style_ticks(ax)
    for s in ax2.spines.values():
        s.set_color(SPINE)
        s.set_linewidth(1.3)
    ax.spines["top"].set_visible(False)
    ax.spines["right"].set_visible(False)
    ax2.spines["top"].set_visible(False)
    ax2.spines["left"].set_visible(False)
    ax2.spines["bottom"].set_visible(False)
    ax2.tick_params(axis="y", which="major", direction="in", length=6, width=1.2,
                    labelsize=TICK, pad=-12)
    ax2.tick_params(axis="y", which="minor", direction="in", length=3.5, width=1.0)
    plt.setp(ax2.get_yticklabels(), ha="right")
    return ax, ax2


def finish_spectrum(ax, ax2, ylabel, lab_xy, dot, tag, tag_xy, x5_xy, xlabel=None, xlab_xy=None):
    ax.plot([500, 500], dot, ls=(0, (1, 2.5)), color="#555555", lw=1.0)
    ax.set_ylabel(ylabel, fontsize=YLAB)
    ax.yaxis.set_label_coords(*lab_xy)
    ax2.set_ylabel("")
    ax.set_xlabel("")
    ax.text(*tag_xy, tag, fontsize=TAG, ha="left", va="center")
    ax.text(*x5_xy, "x5", fontsize=TAG - 0.5, ha="left", va="center")
    if xlabel:
        ax.set_xlabel(xlabel, fontsize=XLAB)
        ax.xaxis.set_label_coords(*xlab_xy)


def right_align(labels, nrow):
    # pad legend entries so the numbers of one column line up on the right
    out = list(labels)
    for c in range(0, len(labels), nrow):
        col = labels[c:c + nrow]
        nd = max(sum(ch.isdigit() for ch in s) for s in col)
        dot = any("." in s for s in col)
        for k, s in enumerate(col):
            if not s:
                continue
            pad = "\u2007" * (nd - sum(ch.isdigit() for ch in s))
            if dot and "." not in s:
                pad += "\u2008"
            out[c + k] = pad + s
    return out


def legend(ax2, labels, colors, ncol, nrow, anchor):
    handles = [Line2D([], [], color=c, lw=2) for c in colors]
    labels = list(labels)
    # blank slots so the columns fill like the original (5, 5, 3)
    while len(labels) < ncol * nrow:
        handles.append(Line2D([], [], alpha=0))
        labels.append("")
    ax2.legend(handles, right_align(labels, nrow), ncol=ncol, loc="upper left",
               bbox_to_anchor=anchor, frameon=False, fontsize=LEG, title="Oleic Acid (μM)",
               title_fontsize=LEG, alignment="left", handlelength=2.2, handletextpad=0.4,
               columnspacing=0.5, labelspacing=0.52, borderpad=0, borderaxespad=0)


def binding_axes(box, xlim, ylim, xmaj, xmin, ymaj, ymin, px, py, fx, fy, ylabel,
                 lab_xy, tag, tag_xy, xlabel=None, xlab_xy=None):
    ax = add_ax(box)
    sns.lineplot(x=fx, y=fy, color="red", lw=1.7, estimator=None, sort=False, ax=ax)
    sns.scatterplot(x=px, y=py, marker="o", s=55, facecolors="none", edgecolor="black",
                    linewidth=1.2, ax=ax, zorder=3)
    ax.set_xlim(*xlim)
    ax.set_ylim(*ylim)
    ax.xaxis.set_major_locator(mticker.MultipleLocator(xmaj))
    ax.xaxis.set_minor_locator(mticker.MultipleLocator(xmin))
    ax.yaxis.set_major_locator(mticker.MultipleLocator(ymaj))
    ax.yaxis.set_minor_locator(mticker.MultipleLocator(ymin))
    sns.despine(ax=ax)
    style_ticks(ax)
    ax.set_ylabel(ylabel, fontsize=YLAB)
    ax.yaxis.set_label_coords(*lab_xy)
    ax.set_xlabel("")
    if xlabel:
        ax.set_xlabel(xlabel, fontsize=XLAB)
        ax.xaxis.set_label_coords(*xlab_xy)
    ax.text(*tag_xy, tag, fontsize=TAG, ha="center", va="center")
    return ax


# ---------------- row 1 : H81A ----------------
ax, ax2 = spectrum_axes([95, 21, 508, 393], (-0.05, 0.8), 0.2, 0.05, (-0.01, 0.16), [0.05, 0.10, 0.15], 0.01)
draw(ax, [(a_uv_lo_wl, a_uv_lo), (a_uv_mid_wl, a_uv_mid), (a_uv_pk_wl, a_uv_pk), (a_uv_tail_wl, a_uv_tail)],
     a_conc, ORIGIN[:13])
draw(ax2, [(a_vis_a_wl, a_vis_a), (a_vis_pk_wl, a_vis_pk), (a_vis_b_wl, a_vis_b), (a_vis_c_wl, a_vis_c)],
     a_conc, ORIGIN[:13])
finish_spectrum(ax, ax2, "Absorbance (AU)", (-0.104, 0.54), (-0.05, 0.40), "H81A", (367, 0.02), (524, 0.23))
legend(ax2, a_conc, ORIGIN[:13], 3, 5, (0.254, 0.945))

ax, ax2 = spectrum_axes([688, 7, 1099, 395], (-0.175, 0.075), 0.05, 0.01, (-0.035, 0.015), [-0.03, -0.02, -0.01, 0.01], 0.002)
ax.axhline(0, color="#222222", lw=1.4, zorder=1)
draw(ax, [(ad_pos_wl, ad_pos), (ad_iso_wl, ad_iso), (ad_tr_wl, ad_tr), (ad_tail_wl, ad_tail)],
     a_conc[1:], ORIGIN[1:13])
draw(ax2, [(ad_vis_wl, ad_vis)], a_conc[1:], ORIGIN[1:13])
finish_spectrum(ax, ax2, "Δ Absorbance", (-0.144, 0.515), (-0.1715, 0.0354), "H81A", (518, -0.12), (524, 0.029))

binding_axes([1298, 23, 1699, 395], (-20, 375), (-0.5105, -0.225), 50, 10, 0.05, 0.01,
             ra_x, ra_y, fa_x, fa_y, "Abs373nm-Abs418nm", (-0.167, 0.487), "H81A", (200, -0.403))

# ---------------- row 2 : H81L ----------------
ax, ax2 = spectrum_axes([92, 462, 505, 834], (-0.05, 0.95), 0.2, 0.05, (-0.01, 0.19), [0.05, 0.10, 0.15], 0.01)
draw(ax, [(l_uv_lo_wl, l_uv_lo), (l_uv_mid_wl, l_uv_mid), (l_uv_pk_wl, l_uv_pk), (l_uv_tail_wl, l_uv_tail)],
     l_conc, ORIGIN[:12])
draw(ax2, [(l_vis_a_wl, l_vis_a), (l_vis_pk_wl, l_vis_pk), (l_vis_b_wl, l_vis_b), (l_vis_c_wl, l_vis_c)],
     l_conc, ORIGIN[:12])
finish_spectrum(ax, ax2, "Absorbance (AU)", (-0.111, 0.476), (-0.05, 0.42), "H81L", (369.5, 0.04), (522, 0.221))
legend(ax2, l_conc, ORIGIN[:12], 3, 4, (0.254, 0.938))

ax, ax2 = spectrum_axes([689, 463, 1089, 834], (-0.22, 0.08), 0.05, 0.01, (-0.044, 0.016), [-0.04, -0.03, -0.02, -0.01, 0.01], 0.002)
ax.axhline(0, color="#222222", lw=1.4, zorder=1)
draw(ax, [(ld_pos_wl, ld_pos), (ld_tr_wl, ld_tr), (ld_tail_wl, ld_tail)], l_conc[1:], ORIGIN[1:12])
draw(ax2, [(ld_vis_wl, ld_vis)], l_conc[1:], ORIGIN[1:12])
finish_spectrum(ax, ax2, "Absorbance (AU)", (-0.145, 0.477), (-0.067, 0.031), "H81L", (508, -0.173), (522, 0.030))

binding_axes([1297, 466, 1699, 838], (-10, 220), (-0.56, -0.27), 50, 10, 0.1, 0.02,
             rl_x, rl_y, fl_x, fl_y, "Abs368nm-Abs421nm", (-0.119, 0.487), "H81L", (108, -0.437))

# ---------------- row 3 : H81Q ----------------
ax, ax2 = spectrum_axes([95, 903, 508, 1275], (-0.1, 1.5), 0.4, 0.1, (-0.02, 0.30), [0.1, 0.2, 0.3], 0.02)
draw(ax, [(q_uv_lo_wl, q_uv_lo), (q_uv_mid_wl, q_uv_mid), (q_uv_pk_wl, q_uv_pk), (q_uv_tail_wl, q_uv_tail)],
     q_conc, ORIGIN[:12])
draw(ax2, [(q_vis_a_wl, q_vis_a), (q_vis_b_wl, q_vis_b), (q_vis_c_wl, q_vis_c)], q_conc, ORIGIN[:12])
finish_spectrum(ax, ax2, "Absorbance (AU)", (-0.148, 0.565), (-0.1, 0.66), "H81Q", (364.4, 0.072), (528, 0.351))
legend(ax2, q_conc, ORIGIN[:12], 3, 4, (0.269, 0.90))

ax, ax2 = spectrum_axes([689, 900, 1089, 1273], (-0.1, 0.05), 0.05, 0.01, (-0.02, 0.01), [-0.01, 0.01], 0.002)
ax.axhline(0, color="#222222", lw=1.4, zorder=1)
draw(ax, [(qd_wl, qd)], q_conc[1:], ORIGIN[1:12])
draw(ax2, [(qd_vis_wl, qd_vis)], q_conc[1:], ORIGIN[1:12])
finish_spectrum(ax, ax2, "Absorbance (AU)", (-0.15, 0.536), (-0.1, 0.04), "H81Q", (517, -0.0834), (539, 0.0218))

binding_axes([1297, 899, 1699, 1272], (-10, 150), (-0.815, -0.6495), 50, 10, 0.05, 0.01,
             rq_x, rq_y, fq_x, fq_y, "Abs368nm-Abs421nm", (-0.162, 0.445), "H81Q", (78.6, -0.748))

# ---------------- row 4 : H81W ----------------
ax, ax2 = spectrum_axes([94, 1334, 507, 1707], (-0.01, 1.305), 0.4, 0.1, (-0.0198, 0.2604), [0.1, 0.2], 0.02)
draw(ax, [(w_uv_lo_wl, w_uv_lo), (w_uv_mid_wl, w_uv_mid), (w_uv_pk_wl, w_uv_pk),
          (w_uv_mid2_wl, w_uv_mid2), (w_uv_tail_wl, w_uv_tail)], w_conc, ORIGIN[:8])
draw(ax2, [(w_vis_wl, w_vis)], w_conc, ORIGIN[:8])
finish_spectrum(ax, ax2, "Absorbance (AU)", (-0.148, 0.566), (-0.01, 0.555), "H81W", (356.8, 0.102), (522, 0.337),
                "Wavelength (nm)", (0.494, -0.107))
legend(ax2, w_conc, ORIGIN[:8], 2, 4, (0.31, 0.89))

ax, ax2 = spectrum_axes([688, 1335, 1087, 1707], (-0.14, 0.0707), 0.05, 0.01, (-0.028, 0.01414), [-0.02, -0.01, 0.01], 0.002)
ax.axhline(0, color="#222222", lw=1.4, zorder=1)
draw(ax, [(wd_wl, wd)], w_conc[1:], ORIGIN[1:8])
draw(ax2, [(wd_vis_wl, wd_vis)], w_conc[1:], ORIGIN[1:8])
finish_spectrum(ax, ax2, "Δ Absorbance", (-0.143, 0.516), (-0.1375, 0.0566), "H81W", (518, -0.1177), (521, -0.0461),
                "Wavelength (nm)", (0.514, -0.110))

binding_axes([1298, 1333, 1700, 1707], (-15, 200), (-0.775, -0.4745), 50, 10, 0.1, 0.025,
             rw_x, rw_y, fw_x, fw_y, "Abs369nm-Abs415nm", (-0.134, 0.449), "H81W", (92, -0.650),
             "[Oleic acid] (μM)", (0.4975, -0.123))

fig.savefig("out.png", dpi=100)
